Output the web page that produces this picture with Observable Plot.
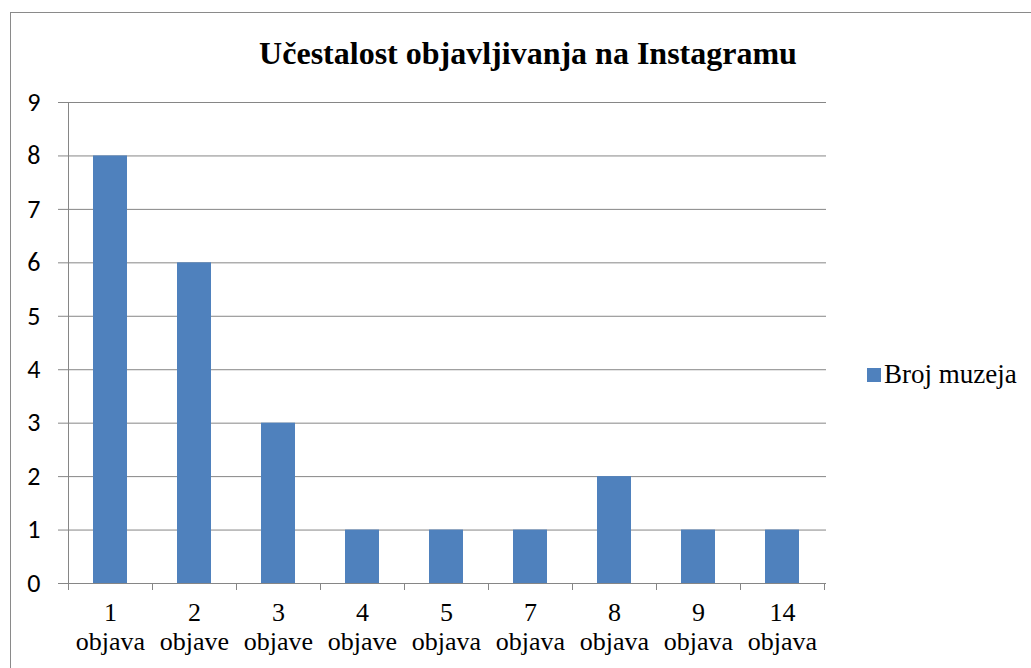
<!DOCTYPE html>
<html>
<head>
<meta charset="utf-8">
<script src="https://cdn.jsdelivr.net/npm/d3@7"></script>
<script src="https://cdn.jsdelivr.net/npm/@observablehq/plot@0.6"></script>
<style>
  html, body { margin: 0; padding: 0; background: #fff; }
  #wrap { position: relative; width: 1031px; height: 668px; overflow: hidden; background: #fff; }
  #frame { position: absolute; left: 10px; top: 12px; width: 1100px; height: 800px; border-left: 1px solid #8a8a8a; border-top: 1px solid #8a8a8a; }
  #title { position: absolute; left: 0; width: 1056px; top: 37px; font: bold 32px 'Liberation Serif', serif; line-height: 32px; text-align: center; color: #000; white-space: nowrap; }
  #swatch { position: absolute; left: 867px; top: 368px; width: 14px; height: 14px; background: #4F81BD; }
  #legendText { position: absolute; left: 884px; top: 361px; font: 27px 'Liberation Serif', serif; line-height: 27px; color: #000; white-space: nowrap; }
  #chart { position: absolute; left: 0; top: 0; }
</style>
</head>
<body>
<div id="wrap">
  <div id="frame"></div>
  <div id="chart"></div>
  <div id="title">Učestalost objavljivanja na Instagramu</div>
  <div id="swatch"></div>
  <div id="legendText"></div>
</div>
<script>
const categories = ["1\nobjava", "2\nobjave", "3\nobjave", "4\nobjave", "5\nobjava", "7\nobjava", "8\nobjava", "9\nobjava", "14\nobjava"];
const values = [8, 6, 3, 1, 1, 1, 2, 1, 1];
const yTicks = [0, 1, 2, 3, 4, 5, 6, 7, 8, 9];
const seriesName = "Broj muzeja";

document.getElementById("legendText").textContent = seriesName;

const data = categories.map((c, i) => ({category: c, value: values[i]}));
const gridColor = "#868686";

const plot = Plot.plot({
  width: 1031,
  height: 668,
  marginLeft: 66,
  marginRight: 205,
  marginTop: 102,
  marginBottom: 85,
  style: {background: "transparent"},
  x: {domain: categories, paddingInner: 0.6, paddingOuter: 0.3},
  y: {domain: [0, 9]},
  marks: [
    Plot.ruleY(yTicks, {y: d => d, stroke: gridColor, strokeWidth: 1, strokeOpacity: 1, insetLeft: -8}),
    Plot.barY(data, {x: "category", y: "value", fill: "#4F81BD"}),
    Plot.axisY({ticks: yTicks, tickSize: 0, tickPadding: 26, fontSize: 26, fontFamily: "Carlito, 'Open Sans', sans-serif", fill: "#000", label: null}),
    Plot.axisX({tickSize: 0, tickPadding: 17, fontSize: 26, lineHeight: 1.12, fontFamily: "'Liberation Serif', serif", fill: "#000", label: null})
  ]
});

document.getElementById("chart").appendChild(plot);

// Category boundary ticks and the vertical axis line, placed through Plot's own scales
const xs = plot.scale("x");
const ys = plot.scale("y");
const step = xs.step, bw = xs.bandwidth;
const svg = d3.select(plot);
const y0 = ys.apply(0);
const yTop = ys.apply(9);
const bounds = categories.map(c => xs.apply(c) - (step - bw) / 2);
bounds.push(xs.apply(categories[categories.length - 1]) + bw + (step - bw) / 2);
const g = svg.append("g").attr("stroke", gridColor).attr("stroke-width", 1);
bounds.forEach(bx => {
  g.append("line").attr("x1", Math.round(bx) + 0.5).attr("x2", Math.round(bx) + 0.5)
    .attr("y1", y0).attr("y2", y0 + 7);
});
g.append("line").attr("x1", Math.round(bounds[0]) + 0.5).attr("x2", Math.round(bounds[0]) + 0.5)
  .attr("y1", yTop).attr("y2", y0);
</script>
</body>
</html>
